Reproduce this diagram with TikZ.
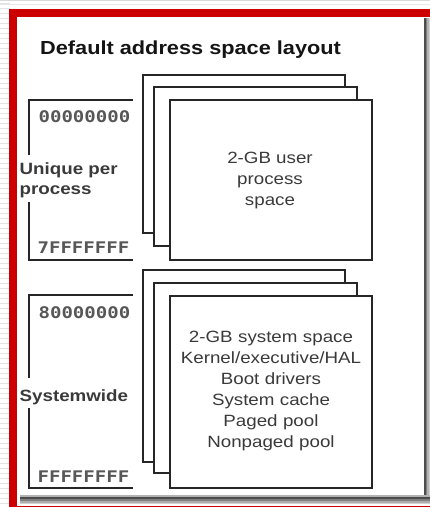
\documentclass[tikz,border=0pt]{standalone}
\usepackage{fontspec}
\setmainfont{Liberation Sans}[FakeStretch=1.15]
\newfontfamily\hexfont{DejaVu Sans Mono}[FakeStretch=1.19]
\definecolor{framered}{HTML}{CC0000}
\definecolor{boxline}{HTML}{262626}
\definecolor{txtgray}{HTML}{3A3A3A}
\begin{document}
\begin{tikzpicture}[x=1pt,y=-1pt,
  layer/.style={draw=boxline, line width=2.3pt, fill=white, rectangle, inner sep=0pt},
  hexlabel/.style={font=\hexfont\bfseries\fontsize{16}{18}\selectfont, text=txtgray!85, anchor=east, inner sep=0pt},
  sidelabel/.style={font=\bfseries\fontsize{16.3}{20}\selectfont, text=txtgray, anchor=west, align=left, inner sep=0pt},
  boxtext/.style={font=\fontsize{16.3}{21}\selectfont, text=txtgray, align=center, inner sep=0pt},
  bracket/.style={draw=boxline, line width=2pt}
]
\useasboundingbox (0,0) rectangle (430,507);
% page background stripes
\foreach \k in {0,...,100} {
  \draw[gray!22, line width=0.8pt] (0,3+5*\k) -- (9.5,3+5*\k);
}
\draw[gray!30, line width=1.2pt] (0,0.7) -- (430,0.7);
\draw[gray!18, line width=1pt] (0,4.8) -- (430,4.8);
% white panel
\fill[white] (17,17) rectangle (430,505.5);
% drop shadow
\draw[black!70, line width=1.6pt] (425,18) -- (425,497);
\draw[black!50, line width=1.5pt] (426.5,18) -- (426.5,497);
\draw[black!30, line width=1.5pt] (428,18) -- (428,497);
\draw[black!18, line width=1.5pt] (429.5,18) -- (429.5,497);
\draw[black!30, line width=1.2pt] (20,496) -- (430,496);
\draw[black!70, line width=1.6pt] (20,498) -- (430,498);
\draw[black!50, line width=1.5pt] (20,500) -- (430,500);
\draw[black!32, line width=1.5pt] (20,502) -- (430,502);
\draw[black!18, line width=1.2pt] (20,503.7) -- (430,503.7);
% red frame
\draw[framered, line width=8pt] (13.3,12.8) rectangle (438,509.5);

% title
\node[font=\bfseries\fontsize{18.9}{22}\selectfont, text=black!92, anchor=west, inner sep=0pt] (title) at (40,50) {Default address space layout};

% upper stack
\node[layer, minimum width=202pt, minimum height=158pt] (u1) at (244,154) {};
\node[layer, minimum width=203pt, minimum height=159pt] (u2) at (255.5,166.5) {};
\node[layer, minimum width=202pt, minimum height=160pt] (u3) at (271,180) {};
\node[boxtext] (utext) at (270,180) {2-GB user\\process\\space};

% lower stack
\node[layer, minimum width=202pt, minimum height=192pt] (l1) at (244,366) {};
\node[layer, minimum width=203pt, minimum height=190pt] (l2) at (255.5,378) {};
\node[layer, minimum width=202pt, minimum height=192pt] (l3) at (271,392) {};
\node[boxtext, text width=200pt] (ltext) at (271,391) {2-GB system space\\Kernel/executive/HAL\\Boot drivers\\System cache\\Paged pool\\Nonpaged pool};

% upper bracket and labels
\node[hexlabel] (a0) at (130.5,117) {00000000};
\node[hexlabel] (a7) at (129.5,248) {7FFFFFFF};
\node[sidelabel] (uniq) at (19.5,180) {Unique per\\process};
\coordinate (ub1) at (133,100);
\coordinate (ub2) at (29,100);
\coordinate (ub3) at (29,155);
\coordinate (ub4) at (29,202);
\coordinate (ub5) at (29,260);
\coordinate (ub6) at (133,260);
\draw[bracket] (ub1) -- (ub2) -- (ub3);
\draw[bracket] (ub4) -- (ub5) -- (ub6);

% lower bracket and labels
\node[hexlabel] (a8) at (130.5,313) {80000000};
\node[hexlabel] (af) at (129.5,477) {FFFFFFFF};
\node[sidelabel] (sysw) at (19.5,397) {Systemwide};
\coordinate (lb1) at (133,295);
\coordinate (lb2) at (29,295);
\coordinate (lb3) at (29,378);
\coordinate (lb4) at (29,408);
\coordinate (lb5) at (29,488);
\coordinate (lb6) at (133,488);
\draw[bracket] (lb1) -- (lb2) -- (lb3);
\draw[bracket] (lb4) -- (lb5) -- (lb6);
\end{tikzpicture}
\end{document}
